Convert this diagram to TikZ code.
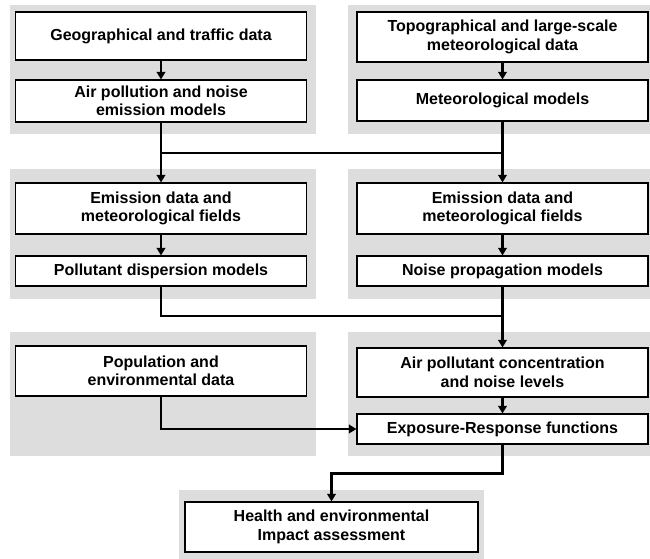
\documentclass[tikz,border=0pt]{standalone}
\usepackage{fontspec}
\setmainfont{Liberation Sans}
\usetikzlibrary{arrows.meta}
\definecolor{panelgray}{RGB}{221,221,221}
\begin{document}
\begin{tikzpicture}[x=1pt,y=-1pt,
        main node/.style={draw=black,line width=1.1pt,fill=white,align=center,inner sep=0pt,
            minimum width=291pt,font=\fontsize{16}{18.5}\selectfont\bfseries},
        panel/.style={fill=panelgray},
        flow/.style={line width=2.8pt,-{Triangle[length=7.5pt,width=8.5pt]}},
        link/.style={line width=2.8pt}]

        \useasboundingbox (0,0) rectangle (650,559);

        % Grey panels
        \fill[panel] (10,5) rectangle (316,134);
        \fill[panel] (348,5) rectangle (650,134);
        \fill[panel] (10,169) rectangle (316,299);
        \fill[panel] (348,169) rectangle (650,299);
        \fill[panel] (10,332) rectangle (316,456);
        \fill[panel] (348,332) rectangle (650,456);
        \fill[panel] (179,490) rectangle (484,559);

        % Define boxes
        \node[main node,minimum height=48pt] (geo) at (161,36) {Geographical and traffic data};
        \node[main node,minimum height=42pt] (emis) at (161,101) {Air pollution and noise\\emission models};
        \node[main node,minimum height=50pt] (topo) at (502.5,37) {Topographical and large-scale\\meteorological data};
        \node[main node,minimum height=41pt] (meteo) at (502.5,100.5) {Meteorological models};
        \node[main node,minimum height=51pt] (emdL) at (161,208.5) {Emission data and\\meteorological fields};
        \node[main node,minimum height=30pt] (disp) at (161,271) {Pollutant dispersion models};
        \node[main node,minimum height=51pt] (emdR) at (502.5,208.5) {Emission data and\\meteorological fields};
        \node[main node,minimum height=30pt] (noise) at (502.5,271) {Noise propagation models};
        \node[main node,minimum height=50pt] (pop) at (161,371) {Population and\\environmental data};
        \node[main node,minimum height=49pt] (conc) at (502.5,372.5) {Air pollutant concentration\\and noise levels};
        \node[main node,minimum height=30pt] (expo) at (502.5,429) {Exposure-Response functions};
        \node[main node,minimum height=50pt,minimum width=293pt] (health) at (331.5,527) {Health and environmental\\Impact assessment};

        \coordinate (j1) at (331,153);
        \coordinate (j2) at (502.5,316);

        % Draw connectors
        \draw[flow] (geo) -- (emis);
        \draw[flow] (topo) -- (meteo);
        \draw[flow] (emis) -- (emdL);
        \draw[flow] (meteo) -- (emdR);
        \draw[link] (emis.south |- j1) -- (meteo.south |- j1);
        \draw[flow] (emdL) -- (disp);
        \draw[flow] (emdR) -- (noise);
        \draw[link] (disp.south) |- (j2);
        \draw[flow] (noise) -- (conc);
        \draw[flow] (conc) -- (expo);
        \draw[flow] (pop.south) |- (expo.west);
        \draw[flow] (expo.south) -- ++(0,29) -| (health.north);

\end{tikzpicture}
\end{document}
